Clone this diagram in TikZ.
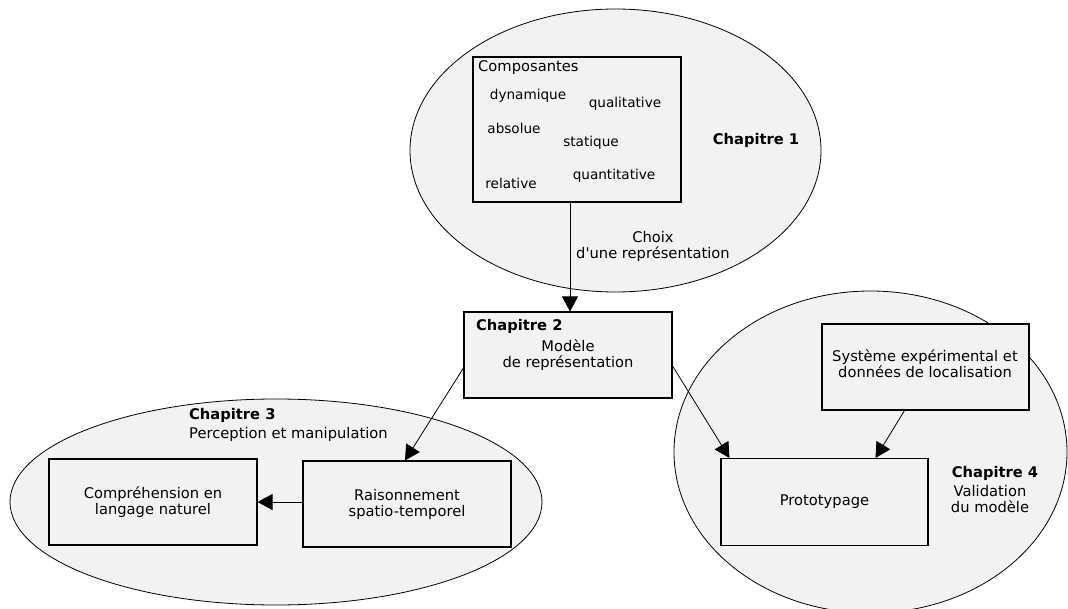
\documentclass[tikz,border=0pt]{standalone}
\usepackage{fontspec}
\setmainfont{DejaVu Sans}
\usetikzlibrary{arrows.meta,calc}
\definecolor{bgfill}{HTML}{F2F2F2}
\begin{document}
\begin{tikzpicture}[x=1pt,y=-1pt,
  every node/.style={font=\fontsize{14.7}{16}\selectfont},
  zone/.style={draw=black,line width=0.8pt,fill=bgfill},
  box/.style={draw=black,line width=1.1pt,fill=bgfill,minimum width=208pt,minimum height=86pt,inner sep=0pt,align=center},
  arr/.style={line width=0.8pt,-{Triangle[length=15pt,width=16pt]}},
  item/.style={font=\fontsize{13.6}{15}\selectfont,inner sep=0pt},
  lab/.style={inner sep=0pt,align=center},
  bold/.style={font=\fontsize{14.7}{16}\selectfont\bfseries,inner sep=0pt}]
\useasboundingbox (0,0) rectangle (1068,609);
\clip (0,0) rectangle (1068,609);

% zones
\draw[zone] (615.5,150.5) ellipse [x radius=205.5pt, y radius=141.5pt];
\draw[zone] (276,502) ellipse [x radius=266pt, y radius=103pt];
\draw[zone] (870.5,452) ellipse [x radius=196.5pt, y radius=161pt];

% chapter 1
\node[box,minimum height=145pt] (comp) at (577,129.5) {};
\node[lab,anchor=west] (compt) at (478,68) {Composantes};
\node[item] (dyn) at (528,96) {dynamique};
\node[item] (qual) at (625,104) {qualitative};
\node[item] (abs) at (514,128) {absolue};
\node[item] (stat) at (591,143) {statique};
\node[item] (rel) at (511,183) {relative};
\node[item] (quant) at (614,176) {quantitative};
\node[bold] (ch1) at (756,140) {Chapitre 1};
\node[lab] (choix) at (653,246) {Choix\\d\textquotesingle une représentation};

% chapter 2
\node[box] (c2) at (568,355) {Modèle\\de représentation};
\node[bold,anchor=west] (ch2) at (476,326) {Chapitre 2};

% chapter 3
\node[box] (compr) at (153,502) {Compréhension en\\langage naturel};
\node[box] (rais) at (407,504) {Raisonnement\\spatio-temporel};
\node[bold,anchor=west] (ch3) at (189,415) {Chapitre 3};
\node[lab,anchor=west] (ch3t) at (189,434) {Perception et manipulation};

% chapter 4
\node[box,minimum width=207pt] (sys) at (925.5,367) {};
\node[lab] (syst) at (925,363.5) {Système expérimental et\\données de localisation};
\node[box,minimum width=207pt,minimum height=87pt] (proto) at (824.5,502) {Prototypage};
\node[bold] (ch4) at (995,473) {Chapitre 4};
\node[lab] (ch4t) at (990,499) {Validation\\du modèle};

% connectors
\draw[arr] ([xshift=-7pt]comp.south) -- ([xshift=-7pt]comp.south |- c2.north);
\draw[arr] ([yshift=-13pt]c2.west) -- ([xshift=-2pt]rais.north);
\draw[arr] ([yshift=-11pt]c2.east) -- ([xshift=9pt]proto.north west);
\draw[arr] ([xshift=-21pt]sys.south) -- ([xshift=51pt]proto.north);
\draw[arr] ([yshift=2pt]rais.west) -- (compr.east);
\end{tikzpicture}
\end{document}
